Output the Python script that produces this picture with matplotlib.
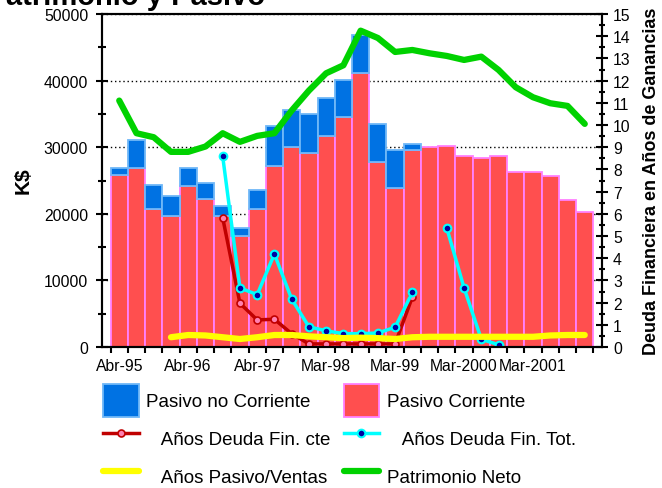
import numpy as np
import matplotlib.pyplot as plt
from matplotlib.ticker import MultipleLocator

plt.rcParams['font.family'] = ['Liberation Sans', 'DejaVu Sans']

# datos trimestrales (K$), Abr-95 .. Ene-2002
pasivo_corriente = [25800, 26900, 20700, 19700, 24200, 22200, 19700, 16700,
                    20700, 27200, 30000, 29100, 31700, 34500, 41100, 27800,
                    23900, 29600, 30000, 30200, 28700, 28400, 28700, 26300,
                    26300, 25700, 22100, 20300]
pasivo_no_corriente = [1150, 4200, 3550, 3000, 2650, 2350, 1500, 1150,
                       2900, 6000, 5650, 5900, 5750, 5650, 5700, 5650,
                       5750, 900, 0, 0, 0, 0, 0, 0,
                       0, 0, 0, 0]
patrimonio_neto = [37000, 32100, 31500, 29300, 29300, 30100, 32100, 30800,
                   31700, 32100, 35500, 38500, 41100, 42300, 47500, 46400,
                   44300, 44600, 44100, 43700, 43100, 43600, 41600, 39000,
                   37500, 36600, 36200, 33500]

# eje derecho (años)
nan = np.nan
anios_deuda_cte = [nan, nan, nan, nan, nan, nan, 5.82, 1.97,
                   1.22, 1.25, 0.6, 0.14, 0.14, 0.14, 0.14, 0.14,
                   0.14, 2.25, nan, nan, nan, nan, nan, nan,
                   nan, nan, nan, nan]
anios_deuda_tot = [nan, nan, nan, nan, nan, nan, 8.59, 2.66,
                   2.36, 4.19, 2.16, 0.91, 0.73, 0.6, 0.6, 0.63,
                   0.89, 2.46, nan, 5.35, 2.66, 0.35, 0.1, nan,
                   nan, nan, nan, nan]
anios_pasivo_ventas = [nan, nan, nan, 0.44, 0.54, 0.52, 0.44, 0.36,
                       0.44, 0.54, 0.54, 0.48, 0.44, 0.40, 0.42, 0.40,
                       0.36, 0.44, 0.46, 0.46, 0.46, 0.46, 0.46, 0.46,
                       0.46, 0.52, 0.54, 0.54]

tick_labels = ['Abr-95', 'Abr-96', 'Abr-97', 'Mar-98', 'Mar-99', 'Mar-2000', 'Mar-2001']

x = np.arange(len(pasivo_corriente))
pc = np.array(pasivo_corriente)
pnc = np.array(pasivo_no_corriente)
con_pnc = pnc > 0

fig = plt.figure(figsize=(6.62, 4.89), dpi=100)
ax = fig.add_axes([102 / 662, 1 - 348 / 489, 500 / 662, 333 / 489])

# barras apiladas
b_pc = ax.bar(x, pc, width=1.0, color='#FF4F4F', edgecolor='#FF80FF',
              linewidth=1.3, zorder=2, label='Pasivo Corriente')
b_pnc = ax.bar(x[con_pnc], pnc[con_pnc], bottom=pc[con_pnc], width=1.0,
               color='#0072E3', edgecolor='#70B8F8', linewidth=1.3, zorder=2,
               label='Pasivo no Corriente')

l_pn, = ax.plot(x, patrimonio_neto, color='#00D200', lw=4.5,
                solid_joinstyle='round', solid_capstyle='round', zorder=3,
                label='Patrimonio Neto')

ax.set_xlim(-1, 28)
ax.set_ylim(0, 50000)
ax.yaxis.set_major_locator(MultipleLocator(10000))
ax.yaxis.set_minor_locator(MultipleLocator(5000))
ax.yaxis.grid(True, which='major', linestyle=(0, (1, 2)), color='black', linewidth=1)
ax.set_axisbelow(True)

ax.set_xticks(x[::4])
ax.set_xticklabels(tick_labels)
ax.set_xticks(np.arange(-0.5, 28, 1), minor=True)
ax.tick_params(axis='x', which='major', length=0, pad=8, labelsize=11.3)
ax.tick_params(axis='x', which='minor', length=4, width=1.5, direction='out')
ax.tick_params(axis='y', which='major', length=8, width=1.5, direction='inout', labelsize=11.3, pad=6)
ax.tick_params(axis='y', which='minor', length=6, width=1.5, direction='inout')

for s in ax.spines.values():
    s.set_linewidth(1.5)

# eje derecho
ax2 = ax.twinx()
ax2.set_ylim(0, 15)
l_cte, = ax2.plot(x, anios_deuda_cte, color='#C00000', lw=2.5, marker='o', ms=5,
                  mfc='#FF80B0', mec='#C00000', mew=1.2, label='Años Deuda Fin. cte')
l_tot, = ax2.plot(x, anios_deuda_tot, color='#00FFFF', lw=2.5, marker='o', ms=5.5,
                  mfc='#0000A0', mec='#00FFFF', mew=1.5, label='Años Deuda Fin. Tot.')
l_pv, = ax2.plot(x, anios_pasivo_ventas, color='#FFFF00', lw=4.5,
                 solid_capstyle='round', label='Años Pasivo/Ventas')
ax2.yaxis.set_major_locator(MultipleLocator(1))
ax2.yaxis.set_minor_locator(MultipleLocator(0.5))
ax2.tick_params(axis='y', which='major', length=8, width=1.5, direction='inout', labelsize=11.3, pad=4)
ax2.tick_params(axis='y', which='minor', length=5, width=1.5, direction='inout')
for s in ax2.spines.values():
    s.set_linewidth(1.5)

# textos
fig.text(265 / 662, 1 - 5 / 489, 'Evolución del Patrimonio y Pasivo', ha='right',
         va='baseline', fontsize=21, fontweight='bold')
fig.text(23 / 662, 1 - 181 / 489, 'K$', rotation=90, ha='center', va='center',
         fontsize=15, fontweight='bold')
fig.text(651 / 662, 1 - 181 / 489, 'Deuda Financiera en Años de Ganancias', rotation=90,
         ha='center', va='center', fontsize=13, fontweight='bold')

# leyenda
handles = [b_pnc, l_cte, l_pv, b_pc, l_tot, l_pn]
labels = ['Pasivo no Corriente', '   Años Deuda Fin. cte', '   Años Pasivo/Ventas',
          'Pasivo Corriente', '   Años Deuda Fin. Tot.', 'Patrimonio Neto']
fig.legend(handles, labels, ncol=2, loc='upper left',
           bbox_to_anchor=(103 / 662, 1 - 385 / 489), frameon=False,
           fontsize=13.5, borderpad=0, borderaxespad=0,
           handlelength=1.9, handleheight=2.3, handletextpad=0.4,
           labelspacing=0.28, columnspacing=0.7)

plt.savefig('out.png', dpi=100)
